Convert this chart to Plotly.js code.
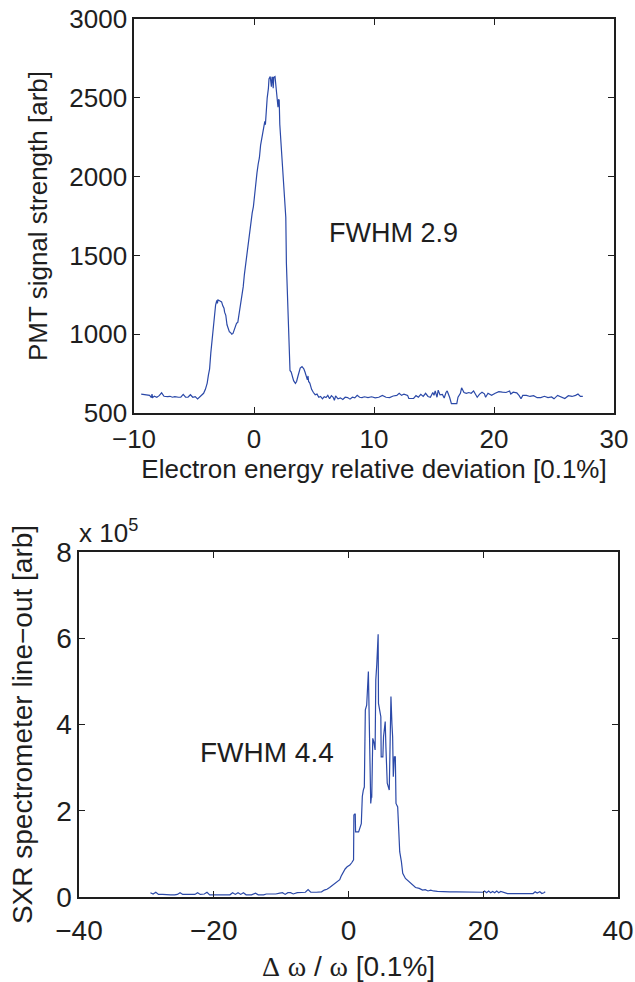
<!DOCTYPE html>
<html>
<head>
<meta charset="utf-8">
<script src="https://cdn.plot.ly/plotly-3.0.1.min.js"></script>
<style>html,body{margin:0;padding:0;background:#fff;}#chart{width:635px;height:982px;}</style>
</head>
<body>
<div id="chart"></div>
<script>
// Top panel: electron energy spectrum (PMT signal)
const energyDev = [-9.4,-9.0,-8.7,-8.55,-8.5,-8.45,-8.3,-8.1,-7.9,-7.7,-7.5,-7.2,-7.0,-6.8,-6.6,-6.3,-6.1,-5.9,-5.7,-5.5,-5.3,-5.1,-4.9,-4.7,-4.5,-4.35,-4.2,-4.05,-3.9,-3.8,-3.7,-3.6,-3.5,-3.4,-3.3,-3.2,-3.1,-3.05,-3.0,-2.9,-2.8,-2.7,-2.6,-2.5,-2.45,-2.35,-2.25,-2.15,-2.05,-1.95,-1.85,-1.75,-1.65,-1.55,-1.45,-1.35,-1.3,-1.2,-1.1,-1.0,-0.9,-0.8,-0.7,-0.6,-0.5,-0.45,-0.35,-0.25,-0.15,-0.05,0.05,0.15,0.2,0.25,0.35,0.45,0.55,0.65,0.7,0.8,0.85,0.9,0.95,1.0,1.1,1.2,1.25,1.35,1.4,1.45,1.5,1.55,1.6,1.65,1.75,1.85,1.9,1.95,2.0,2.05,2.1,2.15,2.25,2.35,2.45,2.5,2.6,2.65,2.7,2.75,2.85,2.9,2.95,3.0,3.1,3.2,3.3,3.45,3.55,3.65,3.75,3.85,4.0,4.15,4.25,4.35,4.45,4.5,4.55,4.65,4.8,4.95,5.1,5.25,5.4,5.55,5.7,5.85,6.0,6.15,6.3,6.45,6.6,6.7,6.8,7.0,7.2,7.4,7.6,7.8,8.0,8.2,8.4,8.6,8.8,9.0,9.2,9.5,9.8,10.1,10.4,10.7,11.0,11.3,11.6,11.9,12.1,12.3,12.5,12.8,12.9,13.3,13.5,13.7,13.9,14.1,14.3,14.5,14.7,14.9,15.0,15.1,15.25,15.35,15.5,15.7,15.85,16.0,16.1,16.3,16.45,16.9,17.0,17.2,17.3,17.5,17.7,17.9,18.1,18.3,18.5,18.6,18.8,19.0,19.2,19.3,19.5,19.8,20.1,20.4,20.7,21.0,21.3,21.4,21.6,21.9,22.1,22.25,22.4,22.7,23.0,23.3,23.6,23.9,24.2,24.5,24.8,25.0,25.3,25.6,25.9,26.2,26.5,26.8,27.0,27.2,27.4];
const pmtSignal = [620,618,612,598,620,598,606,600,610,628,606,604,606,600,604,600,601,618,600,600,616,600,604,590,605,615,625,650,690,740,780,880,960,1050,1130,1185,1215,1195,1218,1212,1210,1205,1180,1165,1140,1120,1060,1030,1015,1010,1000,1005,1030,1060,1070,1075,1100,1130,1180,1250,1300,1380,1440,1500,1580,1585,1660,1720,1770,1810,1880,1960,2020,2025,2080,2120,2200,2240,2280,2310,2340,2350,2330,2420,2500,2560,2620,2635,2600,2570,2630,2630,2560,2630,2635,2560,2500,2480,2440,2490,2485,2330,2200,2060,1950,1910,1750,1740,1450,1320,1100,960,880,770,760,720,705,688,700,730,760,785,795,780,760,740,710,735,700,690,650,630,616,620,600,605,590,603,598,612,590,610,600,580,608,590,596,586,600,598,588,600,596,612,600,598,603,598,603,596,600,612,600,598,608,612,625,612,620,612,592,592,610,600,618,605,625,605,600,630,612,640,600,645,615,618,595,630,640,600,560,560,600,625,660,630,625,630,625,640,615,600,620,632,622,600,625,612,625,635,632,630,640,620,632,628,610,590,612,612,605,610,597,598,606,598,602,590,612,600,592,610,605,612,620,605,605];

// Bottom panel: SXR spectrometer line-out (units of 1e5)
const dOmega = [-29.4,-29.0,-28.6,-28.2,-27.6,-27.0,-26.4,-25.8,-25.4,-25.0,-24.6,-24.0,-23.4,-22.8,-22.4,-22.0,-21.4,-21.0,-20.6,-20.0,-19.0,-18.0,-17.6,-17.2,-16.8,-16.4,-16.0,-15.6,-15.2,-14.4,-13.8,-13.4,-12.6,-12.2,-11.2,-10.8,-10.2,-9.8,-9.4,-9.0,-8.6,-8.2,-7.6,-7.0,-6.4,-6.0,-5.6,-4.8,-4.0,-3.6,-3.2,-2.8,-2.4,-2.0,-1.6,-1.3,-1.1,-0.8,-0.5,-0.2,0.2,0.5,0.75,0.8,1.0,1.05,1.5,1.9,2.05,2.2,2.35,2.5,2.7,2.95,3.1,3.3,3.4,3.45,3.6,3.75,3.95,4.05,4.2,4.4,4.45,4.6,4.8,4.85,5.1,5.2,5.3,5.45,5.55,5.75,6.05,6.15,6.3,6.45,6.55,6.65,6.8,6.95,7.05,7.3,7.45,7.6,7.85,8.05,8.45,8.95,9.45,9.95,10.5,11.0,11.4,11.8,12.2,12.6,13.2,14.0,15.0,16.0,17.0,18.0,19.0,20.0,20.2,20.5,20.8,21.1,21.4,21.7,22.0,22.3,22.6,23.0,23.6,24.5,25.5,26.5,27.4,27.7,28.0,28.4,28.7,29.0,29.2];
const sxrLineout = [0.10,0.07,0.11,0.06,0.06,0.05,0.05,0.05,0.06,0.10,0.06,0.06,0.06,0.06,0.10,0.06,0.07,0.11,0.05,0.05,0.05,0.05,0.05,0.10,0.06,0.10,0.06,0.10,0.05,0.05,0.09,0.05,0.05,0.07,0.07,0.07,0.09,0.10,0.06,0.10,0.10,0.07,0.10,0.11,0.11,0.17,0.11,0.11,0.12,0.16,0.18,0.22,0.27,0.30,0.36,0.40,0.48,0.58,0.65,0.70,0.74,0.80,0.86,1.90,1.93,1.51,1.51,1.70,2.33,2.48,2.55,4.34,4.45,5.23,3.33,2.17,2.33,2.30,3.68,3.60,3.41,5.03,5.40,6.09,4.49,4.30,4.18,3.25,3.25,3.72,3.85,4.07,3.49,2.64,2.48,3.25,4.65,4.00,3.72,2.79,3.25,3.25,2.17,2.09,1.48,1.05,0.82,0.55,0.43,0.36,0.28,0.22,0.20,0.16,0.17,0.14,0.16,0.14,0.13,0.12,0.12,0.12,0.12,0.12,0.12,0.11,0.14,0.10,0.14,0.10,0.13,0.10,0.14,0.10,0.13,0.11,0.08,0.08,0.08,0.08,0.08,0.12,0.09,0.12,0.08,0.10,0.12];

const topTicksX = [-10,0,10,20,30];
const topTicksY = [500,1000,1500,2000,2500,3000];
const botTicksX = [-40,-20,0,20,40];
const botTicksY = [0,2,4,6,8];

const lineColor = '#2b49a8';
const FONT = '"Liberation Sans", Arial, Helvetica, sans-serif';
const SERIF = "'Liberation Serif','DejaVu Serif',serif";
const ink = '#1e1e1e';

const traces = [
  {x: energyDev, y: pmtSignal, xaxis: 'x', yaxis: 'y', type: 'scatter', mode: 'lines',
   line: {color: lineColor, width: 1.2}, showlegend: false, hoverinfo: 'skip'},
  {x: dOmega, y: sxrLineout, xaxis: 'x2', yaxis: 'y2', type: 'scatter', mode: 'lines',
   line: {color: lineColor, width: 1.2}, showlegend: false, hoverinfo: 'skip'}
];

function ax(extra) {
  return Object.assign({
    showline: true, linecolor: ink, linewidth: 1.6, mirror: 'ticks',
    ticks: 'inside', ticklen: 6, tickwidth: 1, tickcolor: ink,
    showgrid: false, zeroline: false, automargin: false
  }, extra);
}

const topFont = {family: FONT, size: 26, color: ink};
const botFont = {family: FONT, size: 28, color: ink};
const greek = s => '<span style="font-family:' + SERIF + '">' + s + '</span>';

const layout = {
  width: 635, height: 982,
  margin: {l: 0, r: 0, t: 0, b: 0},
  paper_bgcolor: '#fff', plot_bgcolor: '#fff',
  font: {family: FONT, color: ink},
  xaxis: ax({domain: [134/635, 614/635], range: [-10, 30], anchor: 'y',
    tickmode: 'array', tickvals: topTicksX, tickfont: topFont, ticklabelstandoff: 2,
    title: {text: 'Electron energy relative deviation [0.1%]', font: topFont, standoff: 6}}),
  yaxis: ax({domain: [1-413/982, 1-19/982], range: [500, 3000], anchor: 'x',
    tickmode: 'array', tickvals: topTicksY, tickfont: topFont,
    title: {text: 'PMT signal strength [arb]', font: topFont, standoff: 14}}),
  xaxis2: ax({domain: [79/635, 618/635], range: [-40, 40], anchor: 'y2',
    tickmode: 'array', tickvals: botTicksX, tickfont: botFont, ticklabelstandoff: 8,
    title: {text: greek('Δ') + ' ' + greek('ω') + ' / ' + greek('ω') + ' [0.1%]', font: botFont, standoff: 12}}),
  yaxis2: ax({domain: [1-897/982, 1-552/982], range: [0, 8], anchor: 'x2',
    tickmode: 'array', tickvals: botTicksY, tickfont: botFont,
    title: {text: 'SXR spectrometer line\u2212out [arb]', font: botFont, standoff: 15}}),
  annotations: [
    {xref: 'x', yref: 'y', x: 11.6, y: 1645, text: 'FWHM 2.9', showarrow: false,
     font: {family: FONT, size: 27, color: ink}, xanchor: 'center', yanchor: 'middle'},
    {xref: 'x2', yref: 'y2', x: -12.1, y: 3.34, text: 'FWHM 4.4', showarrow: false,
     font: {family: FONT, size: 28, color: ink}, xanchor: 'center', yanchor: 'middle'},
    {xref: 'paper', yref: 'paper', x: 77/635, y: 1-550/982, text: 'x 10<sup>5</sup>', showarrow: false,
     font: {family: FONT, size: 26, color: ink}, xanchor: 'left', yanchor: 'bottom'}
  ]
};

Plotly.newPlot('chart', traces, layout, {staticPlot: true, displayModeBar: false});
</script>
</body>
</html>
